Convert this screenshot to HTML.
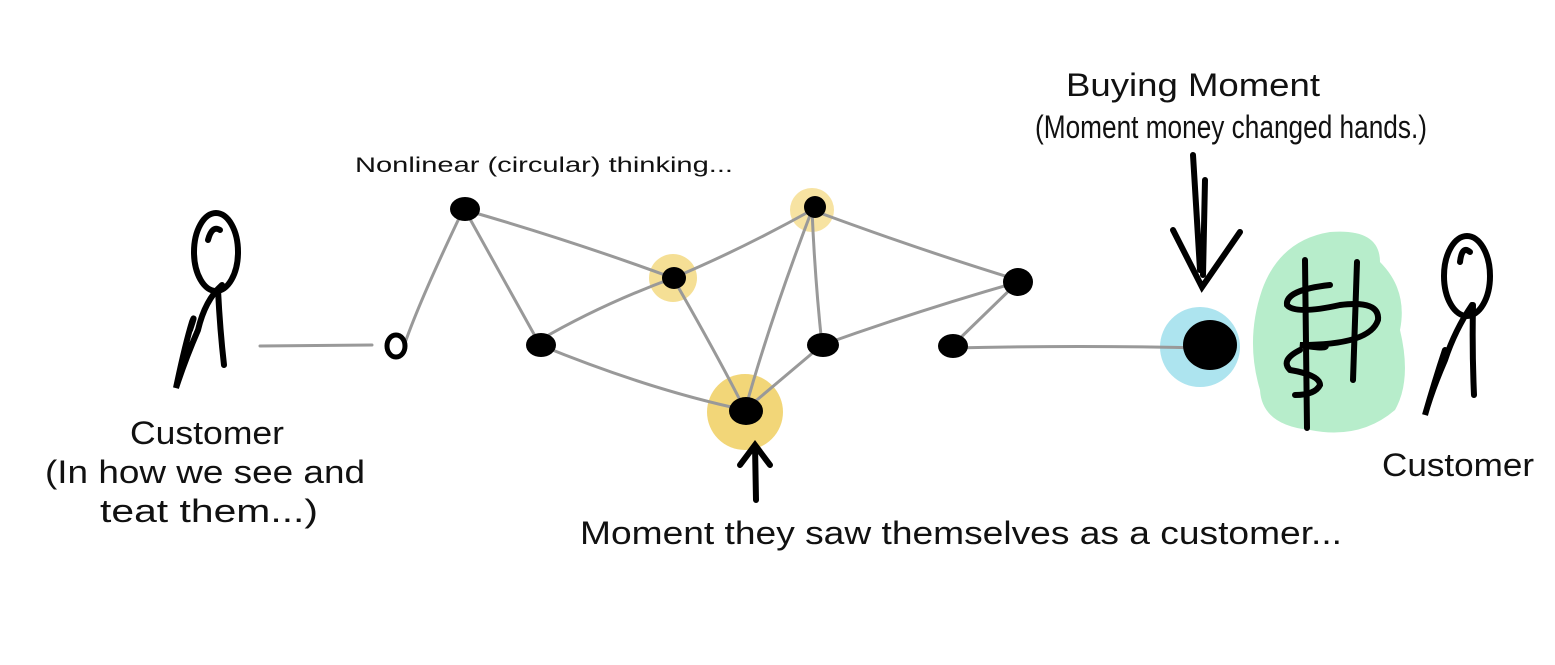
<!DOCTYPE html>
<html><head><meta charset="utf-8"><style>
html,body{margin:0;padding:0;background:#fff}
svg{display:block}
text{font-family:"Liberation Sans",sans-serif;fill:#111}
</style></head><body>
<svg width="1555" height="665" viewBox="0 0 1555 665" xmlns="http://www.w3.org/2000/svg">
<!-- highlights -->
<circle cx="673" cy="278" r="24" fill="#f3d77a" opacity="0.8"/>
<circle cx="745" cy="412" r="38" fill="#f0cf60" opacity="0.85"/>
<circle cx="812" cy="210" r="22" fill="#f3d77a" opacity="0.7"/>
<ellipse cx="1200" cy="347" rx="40" ry="40" fill="#ade4ef"/>
<path d="M1262 290 Q1280 240 1330 232 Q1380 228 1380 262 Q1408 290 1400 330 Q1412 380 1395 410 Q1360 440 1310 430 Q1262 425 1260 390 Q1245 340 1262 290 Z" fill="#b7edcb"/>
<!-- edges -->
<g stroke="#999" stroke-width="3" fill="none" stroke-linecap="round">
<path d="M260 346 L372 345"/>
<path d="M405 343 Q420 300 462 212"/>
<path d="M465 210 L540 345"/>
<path d="M465 210 Q570 240 673 278"/>
<path d="M540 340 Q600 305 673 278"/>
<path d="M673 278 Q720 360 745 410"/>
<path d="M673 278 Q740 250 812 210"/>
<path d="M812 210 Q770 320 745 410"/>
<path d="M812 210 Q815 280 822 345"/>
<path d="M812 210 Q920 250 1018 280"/>
<path d="M822 345 L745 410"/>
<path d="M822 345 Q920 310 1018 282"/>
<path d="M540 345 Q650 390 745 410"/>
<path d="M952 346 L1018 282"/>
<path d="M952 348 Q1080 345 1205 348"/>
</g>
<!-- nodes -->
<g fill="#000">
<ellipse cx="396" cy="346" rx="9" ry="11" fill="none" stroke="#000" stroke-width="5"/>
<ellipse cx="465" cy="209" rx="15" ry="12"/>
<ellipse cx="541" cy="345" rx="15" ry="12"/>
<ellipse cx="674" cy="278" rx="12" ry="11"/>
<ellipse cx="746" cy="411" rx="17" ry="14"/>
<ellipse cx="815" cy="207" rx="11" ry="11"/>
<ellipse cx="823" cy="345" rx="16" ry="12"/>
<ellipse cx="1018" cy="282" rx="15" ry="14"/>
<ellipse cx="953" cy="346" rx="15" ry="12"/>
<ellipse cx="1210" cy="345" rx="27" ry="25"/>
</g>
<g stroke="#000" stroke-width="6" fill="none" stroke-linecap="round">
<!-- left figure -->
<ellipse cx="216" cy="252" rx="22" ry="39"/>
<path d="M208 240 Q212 225 220 230"/>
<path d="M222 285 Q205 300 198 330 Q185 360 176 388 Q185 345 192 322 Q196 312 190 330"/>
<path d="M218 290 Q220 330 224 365"/>
<!-- right figure -->
<ellipse cx="1467" cy="276" rx="23" ry="40"/>
<path d="M1460 262 Q1462 245 1470 252"/>
<path d="M1472 305 Q1455 330 1445 360 Q1432 390 1425 415 Q1435 380 1445 350"/>
<path d="M1473 305 Q1472 350 1474 395"/>
<!-- arrows -->
<path d="M1193 155 L1200 270 M1205 180 L1203 275"/>
<path d="M1173 230 L1202 287 L1240 232"/>
<path d="M756 500 L755 445 M740 465 L755 445 L770 465"/>
<!-- dollar signs -->
<path d="M1305 260 L1307 428"/>
<path d="M1330 285 Q1285 290 1287 305 Q1295 315 1340 305 Q1380 300 1378 320 Q1370 345 1300 345 Q1330 350 1325 345"/>
<path d="M1300 350 Q1280 360 1290 370 Q1320 375 1320 385 Q1315 395 1295 395"/>
<path d="M1357 262 L1353 380"/>
</g>
<!-- text -->
<text x="355" y="172" font-size="21" textLength="378" lengthAdjust="spacingAndGlyphs">Nonlinear (circular) thinking...</text>
<text x="1066" y="96" font-size="32" textLength="254" lengthAdjust="spacingAndGlyphs">Buying Moment</text>
<text x="1035" y="138" font-size="32" textLength="392" lengthAdjust="spacingAndGlyphs">(Moment money changed hands.)</text>
<text x="130" y="444" font-size="32" textLength="154" lengthAdjust="spacingAndGlyphs">Customer</text>
<text x="45" y="483" font-size="32" textLength="320" lengthAdjust="spacingAndGlyphs">(In how we see and</text>
<text x="100" y="522" font-size="32" textLength="218" lengthAdjust="spacingAndGlyphs">teat them...)</text>
<text x="1382" y="476" font-size="32" textLength="152" lengthAdjust="spacingAndGlyphs">Customer</text>
<text x="580" y="544" font-size="32" textLength="762" lengthAdjust="spacingAndGlyphs">Moment they saw themselves as a customer...</text>
</svg>
</body></html>
